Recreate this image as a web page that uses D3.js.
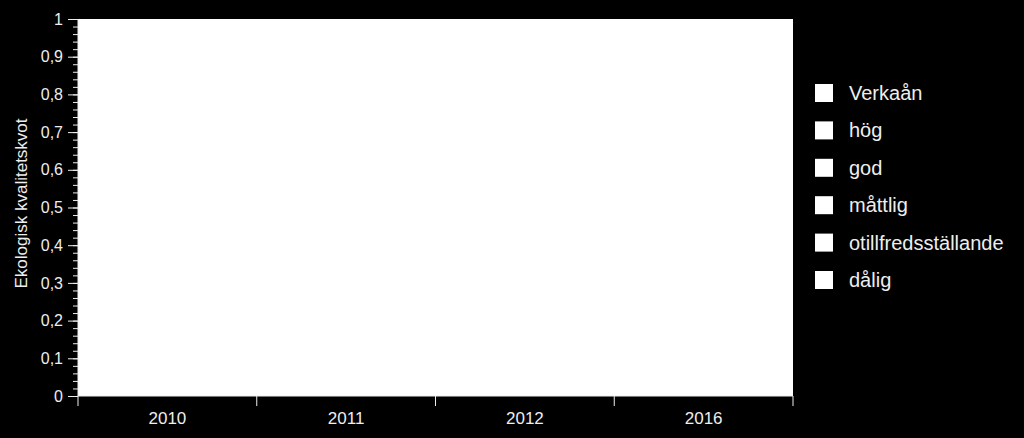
<!DOCTYPE html>
<html>
<head>
<meta charset="utf-8">
<script src="https://cdn.jsdelivr.net/npm/d3@7"></script>
<style>
  html, body { margin: 0; padding: 0; background: #000; }
  svg { display: block; font-family: "Liberation Sans", Arial, sans-serif; }
</style>
</head>
<body>
<div id="chart"></div>
<script>
'use strict';

// data: no values are plotted
var years = ["2010", "2011", "2012", "2016"];
var verkaanValues = [null, null, null, null];
var legendLabels = ["Verkaån", "hög", "god", "måttlig", "otillfredsställande", "dålig"];
var yMajorTicks = [0, 0.1, 0.2, 0.3, 0.4, 0.5, 0.6, 0.7, 0.8, 0.9, 1];
var yMinorStep = 0.02;

var W = 1024, H = 438,
    PLOT = { LEFT: 78, RIGHT: 793, TOP: 19, BOTTOM: 396 },
    FG = "#eeeeee";

var svg = d3.select("#chart").append("svg")
    .attr("width", W)
    .attr("height", H);

svg.append("rect")
    .attr("width", W).attr("height", H)
    .attr("fill", "#000");

var x = d3.scaleBand()
    .domain(years)
    .range([PLOT.LEFT, PLOT.RIGHT]);

var y = d3.scaleLinear()
    .domain([0, 1])
    .range([PLOT.BOTTOM, PLOT.TOP]);

// white plot area
svg.append("rect")
    .attr("x", PLOT.LEFT)
    .attr("y", PLOT.TOP)
    .attr("width", PLOT.RIGHT - PLOT.LEFT)
    .attr("height", PLOT.BOTTOM - PLOT.TOP)
    .attr("fill", "#fff");

// bars (none have values)
svg.append("g").selectAll("rect")
    .data(years.map(function (d, i) { return { year: d, v: verkaanValues[i] }; })
        .filter(function (d) { return d.v != null; }))
    .enter().append("rect")
    .attr("x", function (d) { return x(d.year) + x.bandwidth() * 0.25; })
    .attr("width", x.bandwidth() * 0.5)
    .attr("y", function (d) { return y(d.v); })
    .attr("height", function (d) { return y(0) - y(d.v); })
    .attr("fill", "#fff");

var locale = d3.formatLocale({ decimal: ",", thousands: " ", grouping: [3], currency: ["", ""] });
var fmt = function (d) { return d === 0 || d === 1 ? String(d) : locale.format(".1f")(d); };

// y axis: minor ticks first, then major
var minor = d3.range(0, 1 + 1e-9, yMinorStep);
var yMinor = svg.append("g")
    .attr("transform", "translate(" + PLOT.LEFT + ",0)")
    .call(d3.axisLeft(y).tickValues(minor).tickSize(5).tickFormat(""));
yMinor.select(".domain").remove();
yMinor.selectAll("line").attr("stroke", FG);

var yAxis = svg.append("g")
    .attr("transform", "translate(" + PLOT.LEFT + ",0)")
    .call(d3.axisLeft(y).tickValues(yMajorTicks).tickSize(10).tickPadding(5).tickFormat(fmt));
yAxis.select(".domain").attr("stroke", FG).attr("d", "M0," + PLOT.TOP + "V" + PLOT.BOTTOM);
yAxis.selectAll("line").attr("stroke", FG);
yAxis.selectAll("text")
    .attr("fill", FG)
    .attr("font-size", "16px")
    .attr("font-family", "Liberation Sans, Arial, sans-serif");

// x axis with ticks on band edges
var xAxis = svg.append("g")
    .attr("transform", "translate(0," + PLOT.BOTTOM + ")")
    .call(d3.axisBottom(x).tickSize(0).tickPadding(16));
xAxis.select(".domain").attr("stroke", FG).attr("d", "M" + PLOT.LEFT + ",0H" + PLOT.RIGHT);
xAxis.selectAll("text")
    .attr("fill", FG)
    .attr("font-size", "17px")
    .attr("font-family", "Liberation Sans, Arial, sans-serif");

var edges = years.map(function (d) { return x(d); }).concat([x.range()[1]]);
xAxis.selectAll(".edge")
    .data(edges)
    .enter().append("line")
    .attr("class", "edge")
    .attr("x1", function (d) { return d; })
    .attr("x2", function (d) { return d; })
    .attr("y1", 0)
    .attr("y2", 10)
    .attr("stroke", FG);

// y label
svg.append("text")
    .attr("transform", "translate(27," + ((PLOT.TOP + PLOT.BOTTOM) / 2 - 4) + ") rotate(-90)")
    .attr("text-anchor", "middle")
    .attr("fill", FG)
    .attr("font-size", "17px")
    .text("Ekologisk kvalitetskvot");

// legend
var legend = svg.append("g")
    .attr("transform", "translate(815,84)");

var row = legend.selectAll("g")
    .data(legendLabels)
    .enter().append("g")
    .attr("transform", function (d, i) { return "translate(0," + (i * 37.4) + ")"; });

row.append("rect")
    .attr("width", 18)
    .attr("height", 18)
    .attr("fill", "#fff");

row.append("text")
    .attr("x", 34)
    .attr("y", 9)
    .attr("dy", "0.35em")
    .attr("fill", FG)
    .attr("font-size", "20px")
    .text(function (d) { return d; });
</script>
</body>
</html>
